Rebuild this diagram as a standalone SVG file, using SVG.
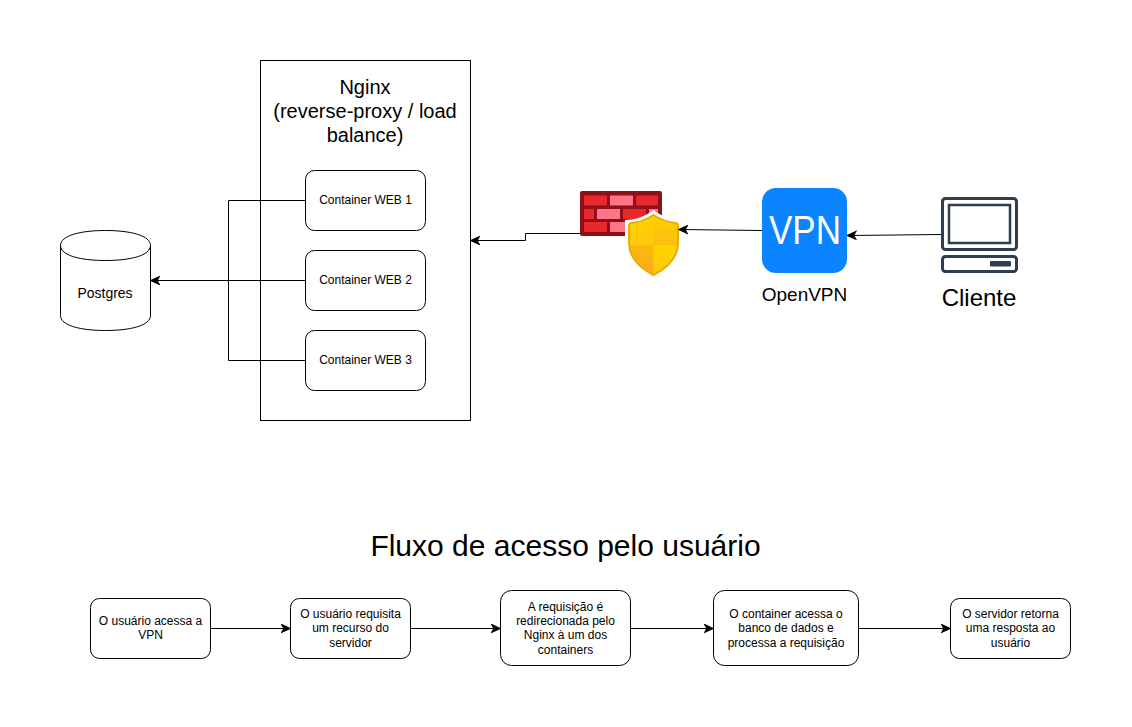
<svg xmlns="http://www.w3.org/2000/svg" width="1132" height="727" viewBox="0 0 1132 727">
<style>
text{font-family:"Liberation Sans",Arial,sans-serif;fill:#000;text-anchor:middle}
.s{font-size:12px}
.n{fill:#fff;stroke:#000;stroke-width:1}
.c{fill:none;stroke:#000;stroke-width:1}
.comp{fill:none;stroke:#2c3e50;stroke-width:3}
.dk{fill:#e8282b}
.lt{fill:#ff7488}
</style>
<defs>
<marker id="a" markerUnits="userSpaceOnUse" markerWidth="10" markerHeight="10" refX="8.500" refY="4.500" orient="auto" viewBox="0 0 9 9"><path d="M1 1L8.500 4.500L1 8L3 4.500Z" fill="#000" stroke="#000" stroke-width="1"/></marker>
<linearGradient id="g1" x1="0" y1="0" x2="0" y2="1"><stop offset="0" stop-color="#ffd500"/><stop offset="1" stop-color="#ffc90a"/></linearGradient>
<linearGradient id="g2" x1="0" y1="0" x2="0" y2="1"><stop offset="0" stop-color="#ffd000"/><stop offset="1" stop-color="#fbbd10"/></linearGradient>
<linearGradient id="g3" x1="0" y1="0" x2="0" y2="1"><stop offset="0" stop-color="#fcb912"/><stop offset="1" stop-color="#fba915"/></linearGradient>
<clipPath id="sh"><path d="M653.500 215C646 220 638 222.500 631 223Q629 223.500 629 226L629 243C629 258 640 268 653.500 275C667 268 678 258 678 243L678 226Q678 223.500 676 223C669 222.500 661 220 653.500 215Z"/></clipPath>
</defs>

<g id="nginx"><rect class="n" x="260.500" y="60.500" width="210" height="360"/>
<text x="365" y="94" font-size="20">Nginx</text><text x="365" y="118" font-size="20">(reverse-proxy / load</text><text x="365" y="142" font-size="20">balance)</text></g>

<g id="web1"><rect class="n" x="305.500" y="170.500" width="120" height="60" rx="9"/><text class="s" x="365.500" y="204">Container WEB 1</text></g>
<g id="web2"><rect class="n" x="305.500" y="250.500" width="120" height="60" rx="9"/><text class="s" x="365.500" y="284">Container WEB 2</text></g>
<g id="web3"><rect class="n" x="305.500" y="330.500" width="120" height="60" rx="9"/><text class="s" x="365.500" y="364">Container WEB 3</text></g>

<g id="postgres"><path class="n" d="M60.500 245.500C60.500 235.500 80.500 230.500 105.500 230.500C130.500 230.500 150.500 235.500 150.500 245.500V315.500C150.500 325.500 130.500 330.500 105.500 330.500C80.500 330.500 60.500 325.500 60.500 315.500Z"/>
<path class="c" d="M60.500 245.500C60.500 255.500 80.500 260.500 105.500 260.500C130.500 260.500 150.500 255.500 150.500 245.500"/>
<text x="105" y="298" font-size="14">Postgres</text></g>

<g id="firewall">
<rect x="580" y="191" width="82" height="45" rx="2" fill="#8f1118"/>
<rect class="dk" x="584" y="195.500" width="23" height="10"/><rect class="lt" x="610" y="195.500" width="23" height="10"/><rect class="dk" x="636" y="195.500" width="22" height="10"/>
<rect class="dk" x="584" y="209" width="10" height="10"/><rect class="lt" x="597" y="209" width="23" height="10"/><rect class="dk" x="623" y="209" width="23" height="10"/><rect class="lt" x="649" y="209" width="9" height="10"/>
<rect class="dk" x="584" y="222" width="23" height="10"/><rect class="lt" x="610" y="222" width="23" height="10"/><rect class="dk" x="636" y="222" width="22" height="10"/>
<path d="M653.500 210C646 216 636 220 625 220L625 243C625 260 640 271 653.500 279L682 255L682 220C671 220 661 216 653.500 210Z" fill="#fff"/>
<g clip-path="url(#sh)"><rect x="628" y="214" width="26" height="31" fill="url(#g1)"/><rect x="653.500" y="214" width="25" height="31" fill="url(#g2)"/><rect x="628" y="245" width="26" height="31" fill="url(#g3)"/><rect x="653.500" y="245" width="25" height="31" fill="url(#g1)"/></g>
<path d="M653.500 215C646 220 638 222.500 631 223Q629 223.500 629 226L629 243C629 258 640 268 653.500 275C667 268 678 258 678 243L678 226Q678 223.500 676 223C669 222.500 661 220 653.500 215Z" fill="none" stroke="#e5ae0c" stroke-width="2"/>
</g>

<g id="openvpn"><rect x="762" y="188" width="85" height="85" rx="14" fill="#0a84ff"/><text x="805" y="244" font-size="40" textLength="72" lengthAdjust="spacingAndGlyphs" style="fill:#fff">VPN</text><text x="804.500" y="301" font-size="19">OpenVPN</text></g>

<g id="cliente"><rect class="comp" x="942.500" y="198.500" width="74" height="51" rx="3"/><rect x="949" y="205" width="61" height="38" fill="none" stroke="#2c3e50" stroke-width="2.500"/><rect class="comp" x="942.500" y="256.500" width="74" height="15" rx="3"/><rect x="990" y="261" width="21" height="5.500" rx="1" fill="#2c3e50"/><text x="979" y="306" font-size="24">Cliente</text></g>

<text id="title" x="565.500" y="556" font-size="30">Fluxo de acesso pelo usuário</text>

<g id="s1"><rect class="n" x="90.500" y="598.500" width="120" height="60" rx="9"/><text class="s" x="150.500" y="625">O usuário acessa a</text><text class="s" x="150.500" y="639">VPN</text></g>
<g id="s2"><rect class="n" x="290.500" y="598.500" width="120" height="60" rx="9"/><text class="s" x="350.500" y="618">O usuário requisita</text><text class="s" x="350.500" y="632">um recurso do</text><text class="s" x="350.500" y="647">servidor</text></g>
<g id="s3"><rect class="n" x="500.500" y="590.500" width="130" height="75" rx="11"/><text class="s" x="565.500" y="611">A requisição é</text><text class="s" x="565.500" y="625">redirecionada pelo</text><text class="s" x="565.500" y="639">Nginx à um dos</text><text class="s" x="565.500" y="654">containers</text></g>
<g id="s4"><rect class="n" x="713.500" y="590.500" width="145" height="75" rx="11"/><text class="s" x="786" y="618">O container acessa o</text><text class="s" x="786" y="632">banco de dados e</text><text class="s" x="786" y="647">processa a requisição</text></g>
<g id="s5"><rect class="n" x="950.500" y="598.500" width="120" height="60" rx="9"/><text class="s" x="1010.500" y="618">O servidor retorna</text><text class="s" x="1010.500" y="632">uma resposta ao</text><text class="s" x="1010.500" y="647">usuário</text></g>

<g id="connectors">
<path class="c" d="M305.500 200.500H228.500V360.500H305.500"/>
<path class="c" d="M305.500 280.500H151" marker-end="url(#a)"/>
<path class="c" d="M580 233.500H525.500V240.500H471" marker-end="url(#a)"/>
<path class="c" d="M762 230.500L679 229.500" marker-end="url(#a)"/>
<path class="c" d="M941 234.500L847.500 235.500" marker-end="url(#a)"/>
<path class="c" d="M210.500 628.500H290" marker-end="url(#a)"/>
<path class="c" d="M410.500 628.500H500" marker-end="url(#a)"/>
<path class="c" d="M630.500 628.500H713" marker-end="url(#a)"/>
<path class="c" d="M858.500 628.500H950" marker-end="url(#a)"/>
</g>
</svg>
